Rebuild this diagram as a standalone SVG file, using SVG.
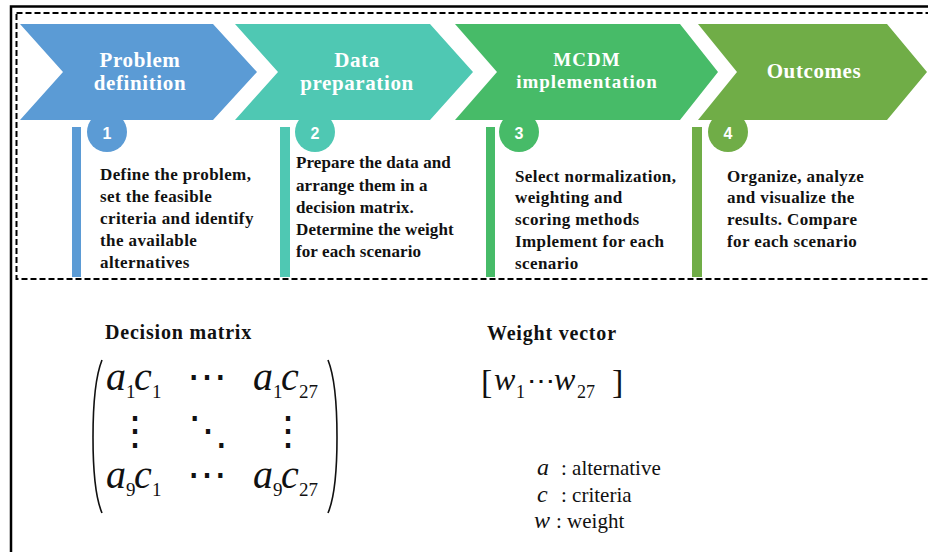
<svg xmlns="http://www.w3.org/2000/svg" width="928" height="552" viewBox="0 0 928 552">
<style>
.sf{font-family:'Liberation Serif','Times New Roman','DejaVu Serif',serif}
.head{font-weight:bold;fill:#fff;text-anchor:middle;font-size:21px;letter-spacing:0.6px}
.num{font-family:'Liberation Sans',Arial,sans-serif;font-weight:bold;fill:#fff;text-anchor:middle;font-size:16px}
.body{font-weight:bold;fill:#111;font-size:17px;letter-spacing:0.4px}
.lbl{font-weight:bold;fill:#111;font-size:20px;letter-spacing:0.8px}
.mi{font-style:italic;fill:#111}
.mr{fill:#111}
.dots{font-family:'DejaVu Serif',serif;fill:#111}
.paren{fill:none;stroke:#111;stroke-width:1.6}
</style>
<rect width="928" height="552" fill="#fff"/>
<rect x="11" y="6.5" width="940" height="550" fill="none" stroke="#000" stroke-width="2.5"/>
<rect x="16.5" y="13" width="930" height="266" fill="none" stroke="#000" stroke-width="2" stroke-dasharray="6 3"/>
<g id="connectors"></g>
<g id="step1">
<rect x="72" y="127" width="9" height="150" fill="#5B9BD5"/>
<circle cx="107" cy="132" r="20" fill="#5B9BD5"/>
<polygon points="20,24 213,24 257,72 213,120 20,120 63,72" fill="#5B9BD5"/>
<text class="sf head" x="140" y="67">Problem</text>
<text class="sf head" x="140" y="90">definition</text>
<text class="num" x="107" y="139">1</text>
<text class="sf body"><tspan x="100" y="180">Define the problem,</tspan><tspan x="100" y="202">set the feasible</tspan><tspan x="100" y="224">criteria and identify</tspan><tspan x="100" y="246">the available</tspan><tspan x="100" y="268">alternatives</tspan></text>
</g>
<g id="step2">
<rect x="280" y="127" width="10" height="150" fill="#4FC8B3"/>
<circle cx="315" cy="132" r="20" fill="#4FC8B3"/>
<polygon points="235,24 430,24 473,72 430,120 235,120 278,72" fill="#4FC8B3"/>
<text class="sf head" x="357" y="67">Data</text>
<text class="sf head" x="357" y="90">preparation</text>
<text class="num" x="315" y="139">2</text>
<text class="sf body" style="letter-spacing:0.1px"><tspan x="296" y="168">Prepare the data and</tspan><tspan x="296" y="191">arrange them in a</tspan><tspan x="296" y="213">decision matrix.</tspan><tspan x="296" y="235">Determine the weight</tspan><tspan x="296" y="257">for each scenario</tspan></text>
</g>
<g id="step3">
<rect x="486" y="127" width="9" height="150" fill="#47BB68"/>
<circle cx="519" cy="132" r="20" fill="#47BB68"/>
<polygon points="455,24 680,24 718,72 680,120 455,120 497,72" fill="#47BB68"/>
<text class="sf head" x="587" y="66" style="font-size:19px;letter-spacing:1px">MCDM</text>
<text class="sf head" x="587" y="88" style="font-size:19px;letter-spacing:1px">implementation</text>
<text class="num" x="519" y="139">3</text>
<text class="sf body"><tspan x="515" y="182">Select normalization,</tspan><tspan x="515" y="203">weighting and</tspan><tspan x="515" y="225">scoring methods</tspan><tspan x="515" y="247">Implement for each</tspan><tspan x="515" y="269">scenario</tspan></text>
</g>
<g id="step4">
<rect x="692" y="127" width="10" height="150" fill="#70AD47"/>
<circle cx="728" cy="132" r="20" fill="#70AD47"/>
<polygon points="698,24 887,24 927,72 887,120 698,120 737,72" fill="#70AD47"/>
<text class="sf head" x="814" y="78">Outcomes</text>
<text class="num" x="728" y="139">4</text>
<text class="sf body"><tspan x="727" y="182">Organize, analyze</tspan><tspan x="727" y="203">and visualize the</tspan><tspan x="727" y="225">results. Compare</tspan><tspan x="727" y="247">for each scenario</tspan></text>
</g>
<g id="decision-matrix">
<text class="sf lbl" x="105" y="339">Decision matrix</text>
<path class="paren" d="M102 360 C90 390 90 485 102 513"/>
<path class="paren" d="M328 360 C340 390 340 485 328 513"/>
<text class="sf mi" x="106" y="390" font-size="40">a</text>
<text class="sf mr" x="126" y="398" font-size="19">1</text>
<text class="sf mi" x="134" y="390" font-size="40">c</text>
<text class="sf mr" x="152" y="398" font-size="19">1</text>
<text class="dots" x="207" y="390" font-size="40" text-anchor="middle">⋯</text>
<text class="sf mi" x="253" y="390" font-size="40">a</text>
<text class="sf mr" x="273" y="398" font-size="19">1</text>
<text class="sf mi" x="281" y="390" font-size="40">c</text>
<text class="sf mr" x="299" y="398" font-size="19">27</text>
<text class="dots" x="135" y="444" font-size="40" text-anchor="middle">⋮</text>
<text class="dots" x="208" y="444" font-size="40" text-anchor="middle">⋱</text>
<text class="dots" x="288" y="444" font-size="40" text-anchor="middle">⋮</text>
<text class="sf mi" x="106" y="488" font-size="40">a</text>
<text class="sf mr" x="126" y="496" font-size="19">9</text>
<text class="sf mi" x="134" y="488" font-size="40">c</text>
<text class="sf mr" x="152" y="496" font-size="19">1</text>
<text class="dots" x="207" y="488" font-size="40" text-anchor="middle">⋯</text>
<text class="sf mi" x="253" y="488" font-size="40">a</text>
<text class="sf mr" x="273" y="496" font-size="19">9</text>
<text class="sf mi" x="281" y="488" font-size="40">c</text>
<text class="sf mr" x="299" y="496" font-size="19">27</text>
</g>
<g id="weight-vector">
<text class="sf lbl" x="487" y="340">Weight vector</text>
<text class="sf mr" x="481" y="393" font-size="34">[</text>
<text class="sf mi" x="494" y="390" font-size="32">w</text>
<text class="sf mr" x="516" y="398" font-size="18">1</text>
<text class="dots" x="541" y="390" font-size="28" text-anchor="middle">⋯</text>
<text class="sf mi" x="554" y="390" font-size="32">w</text>
<text class="sf mr" x="577" y="398" font-size="18">27</text>
<text class="sf mr" x="612" y="393" font-size="34">]</text>
</g>
<g id="legend">
<text class="sf mi" x="537" y="475" font-size="24">a</text>
<text class="sf mr" x="561" y="475" font-size="21">: alternative</text>
<text class="sf mi" x="537" y="502" font-size="24">c</text>
<text class="sf mr" x="561" y="502" font-size="21">: criteria</text>
<text class="sf mi" x="534" y="528" font-size="24">w</text>
<text class="sf mr" x="556" y="528" font-size="21">: weight</text>
</g>
</svg>
